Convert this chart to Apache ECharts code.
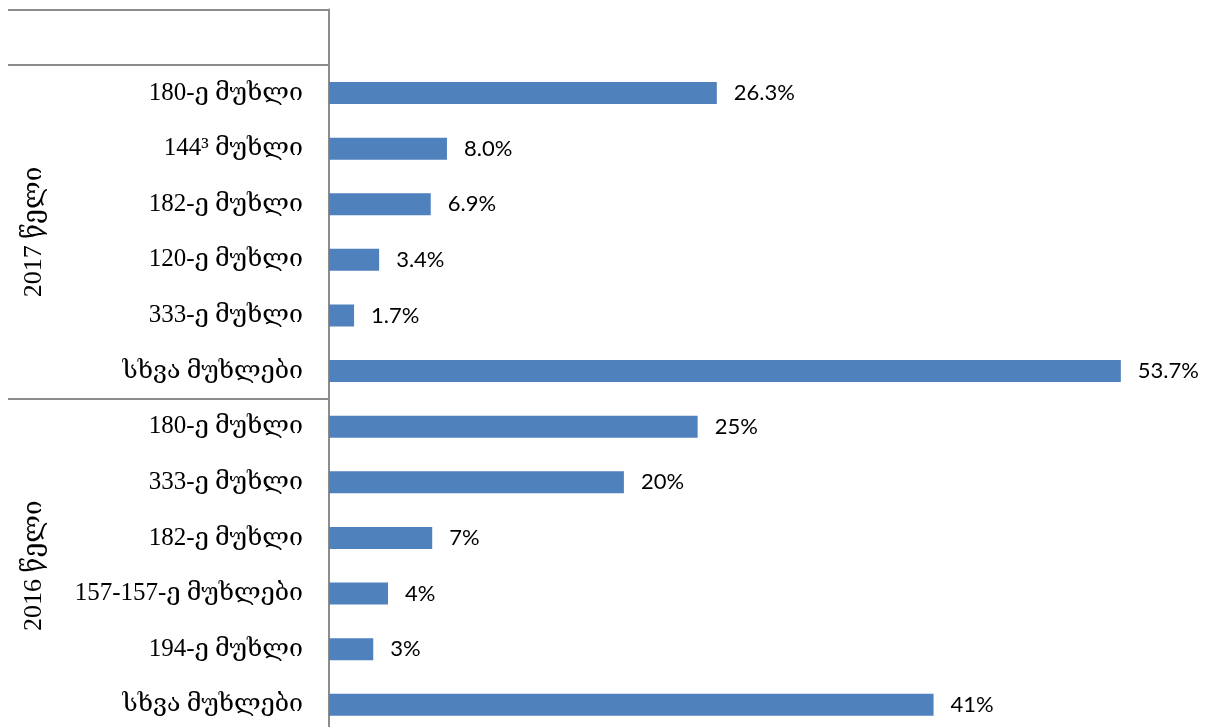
<!DOCTYPE html>
<html>
<head>
<meta charset="utf-8">
<script src="https://cdn.jsdelivr.net/npm/echarts@6/dist/echarts.min.js"></script>
<style>html,body{margin:0;padding:0;background:#fff}#c{width:1213px;height:727px}</style>
</head>
<body>
<div id="c"></div>
<script>
const categories = ["", "180-ე მუხლი", "144³ მუხლი", "182-ე მუხლი", "120-ე მუხლი", "333-ე მუხლი", "სხვა მუხლები",
  "180-ე მუხლი", "333-ე მუხლი", "182-ე მუხლი", "157-157-ე მუხლები", "194-ე მუხლი", "სხვა მუხლები"];
const values = [null, 26.3, 8.0, 6.9, 3.4, 1.7, 53.7, 25, 20, 7, 4, 3, 41];
const valueLabels = ["", "26.3%", "8.0%", "6.9%", "3.4%", "1.7%", "53.7%", "25%", "20%", "7%", "4%", "3%", "41%"];
const groupLabels = ["2017 წელი", "2016 წელი"];
const groupCenters = [4, 10];
const groupBounds = [0, 1, 7, 13];

const chart = echarts.init(document.getElementById('c'), null, {renderer: 'canvas'});
const serif = "'Liberation Serif', 'DejaVu Serif', serif";
chart.setOption({
  animation: false,
  grid: {left: 329, top: 9.6, width: 811, height: 723, containLabel: false, outerBoundsMode: 'none'},
  xAxis: {type: 'value', min: 0, max: 55, show: false},
  yAxis: [
    {
      type: 'category', data: categories, inverse: true,
      axisLine: {show: true, lineStyle: {color: '#8c8c8c', width: 2}},
      axisTick: {show: false},
      axisLabel: {color: '#000', fontFamily: serif, fontSize: 25, margin: 26}
    },
    {
      type: 'value', min: 0, max: 13, inverse: true, position: 'left',
      axisLine: {show: false},
      splitLine: {show: false},
      axisTick: {show: true, customValues: groupBounds, length: 321, lineStyle: {color: '#8c8c8c', width: 2}},
      axisLabel: {
        show: true, customValues: groupCenters, rotate: 90, margin: 282,
        color: '#000', fontFamily: serif, fontSize: 26,
        formatter: v => groupLabels[groupCenters.indexOf(v)] || ''
      }
    }
  ],
  series: [{
    type: 'bar', yAxisIndex: 0, data: values, barWidth: 22,
    itemStyle: {color: '#4f81bd'},
    label: {
      show: true, position: 'right', distance: 17, color: '#000',
      fontFamily: "Lato, 'Liberation Sans', sans-serif", fontSize: 22,
      formatter: p => valueLabels[p.dataIndex]
    }
  }]
});
</script>
</body>
</html>
